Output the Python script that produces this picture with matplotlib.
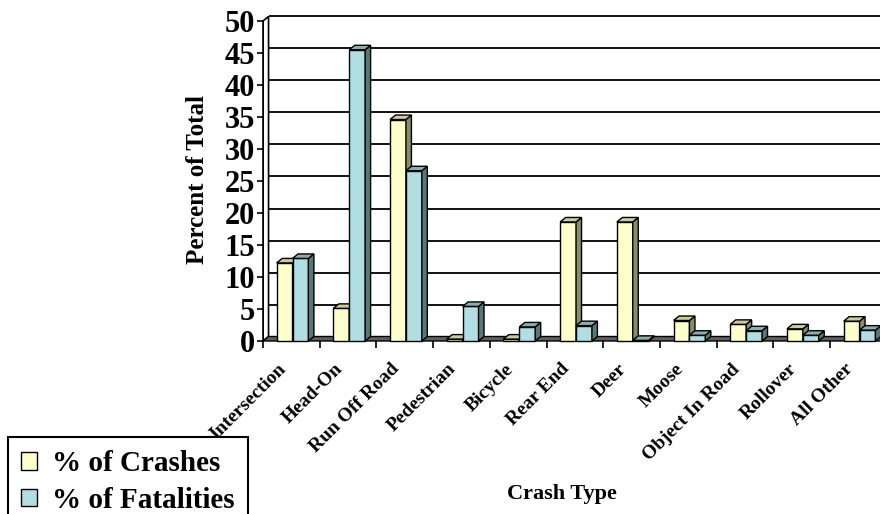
import numpy as np
import matplotlib
matplotlib.use("Agg")
import matplotlib.pyplot as plt
from matplotlib.patches import Polygon, Patch
from matplotlib.transforms import ScaledTranslation

plt.rcParams['font.family'] = ['Liberation Serif', 'DejaVu Serif']
plt.rcParams['font.weight'] = 'bold'

# datos por tipo de choque
categories = ['Intersection', 'Head-On', 'Run Off Road', 'Pedestrian', 'Bicycle',
              'Rear End', 'Deer', 'Moose', 'Object In Road', 'Rollover', 'All Other']
crashes = [12.2, 5.1, 34.6, 0.3, 0.3, 18.6, 18.6, 3.2, 2.6, 1.9, 3.1]
fatalities = [12.9, 45.5, 26.6, 5.4, 2.2, 2.4, 0.1, 0.9, 1.6, 0.9, 1.7]
yticks = np.arange(0, 55, 5)

# colores (frente, lado, tapa)
c_crash = ('#FFFFCC', '#8C8C66', '#CCCC99')
c_fatal = ('#B0DEE2', '#587878', '#88AEB0')

n = len(categories)
bw = 0.28          # ancho de barra (categorias)
dx, dy = 0.097, 0.7  # profundidad del efecto 3D

fig = plt.figure(figsize=(8.8, 5.14), dpi=100)
ax = fig.add_axes([0.2989, 0.3366, 0.7088, 0.6226])
ax.set_xlim(0, n)
ax.set_ylim(0, 50)
for s in ax.spines.values():
    s.set_visible(False)

# pared de fondo: lineas de grilla
ax.hlines(yticks[1:] + dy, dx, n + dx, color='black', lw=1.3, zorder=1, clip_on=False)
# pared izquierda
ax.add_patch(Polygon([(0, 0), (dx, dy), (dx, 50 + dy), (0, 50)], closed=True,
                     facecolor='white', edgecolor='black', lw=1.2, zorder=2, clip_on=False))
# piso
ax.add_patch(Polygon([(0, 0), (n, 0), (n + dx, dy), (dx, dy)], closed=True,
                     facecolor='#606060', edgecolor='black', lw=1.0, zorder=2, clip_on=False))


def bar3d(x0, h, cols, z):
    x1 = x0 + bw
    ax.add_patch(Polygon([(x0, 0), (x1, 0), (x1, h), (x0, h)], closed=True,
                         facecolor=cols[0], edgecolor='black', lw=1.0, zorder=z, clip_on=False))
    ax.add_patch(Polygon([(x1, 0), (x1 + dx, dy), (x1 + dx, h + dy), (x1, h)], closed=True,
                         facecolor=cols[1], edgecolor='black', lw=1.0, zorder=z, clip_on=False))
    ax.add_patch(Polygon([(x0, h), (x0 + dx, h + dy), (x1 + dx, h + dy), (x1, h)], closed=True,
                         facecolor=cols[2], edgecolor='black', lw=1.0, zorder=z, clip_on=False))


z = 3
for i in range(n):
    bar3d(i + 0.24, crashes[i], c_crash, z)
    bar3d(i + 0.52, fatalities[i], c_fatal, z + 1)
    z += 2

# eje y frontal
ax.vlines(0, 0, 50, color='black', lw=1.3, zorder=20)
ax.set_yticks(yticks)
ax.set_yticklabels([str(v) for v in yticks], fontsize=22, fontweight='bold')
ax.tick_params(axis='y', length=4, width=1.2, pad=2, left=True)

# eje x: marcas en los limites, etiquetas al centro
ax.set_xticks(np.arange(0, n + 1))
ax.set_xticklabels([])
ax.set_xticks(np.arange(n) + 0.5, minor=True)
ax.set_xticklabels(categories, minor=True, rotation=45, ha='right',
                   rotation_mode='anchor', fontsize=14, fontweight='bold')
ax.tick_params(axis='x', which='major', length=5, width=1.2, direction='out')
ax.tick_params(axis='x', which='minor', length=0, pad=14)
off = ScaledTranslation(-10 / 72, 0, fig.dpi_scale_trans)
for lab in ax.get_xticklabels(minor=True):
    lab.set_transform(lab.get_transform() + off)

ax.set_ylabel('Percent of Total', fontsize=18, fontweight='bold')
ax.yaxis.set_label_coords(-0.086, 0.506)
ax.set_xlabel('Crash Type', fontsize=16, fontweight='bold')
ax.xaxis.set_label_coords(0.479, -0.447)

handles = [Patch(facecolor=c_crash[0], edgecolor='black', lw=1.0),
           Patch(facecolor=c_fatal[0], edgecolor='black', lw=1.0)]
leg = ax.legend(handles, ['% of Crashes', '% of Fatalities'], loc='upper left',
                bbox_to_anchor=(8 / 880, 1 - 437 / 514), bbox_transform=fig.transFigure,
                prop={'size': 21, 'weight': 'bold'},
                handlelength=0.55, handleheight=0.55, handletextpad=0.5, labelspacing=0.33,
                borderpad=0.45, borderaxespad=0, fancybox=False, framealpha=1)
leg.get_frame().set_edgecolor('black')
leg.get_frame().set_linewidth(1.5)
leg.set_zorder(2)

fig.savefig('out.png', dpi=100)
